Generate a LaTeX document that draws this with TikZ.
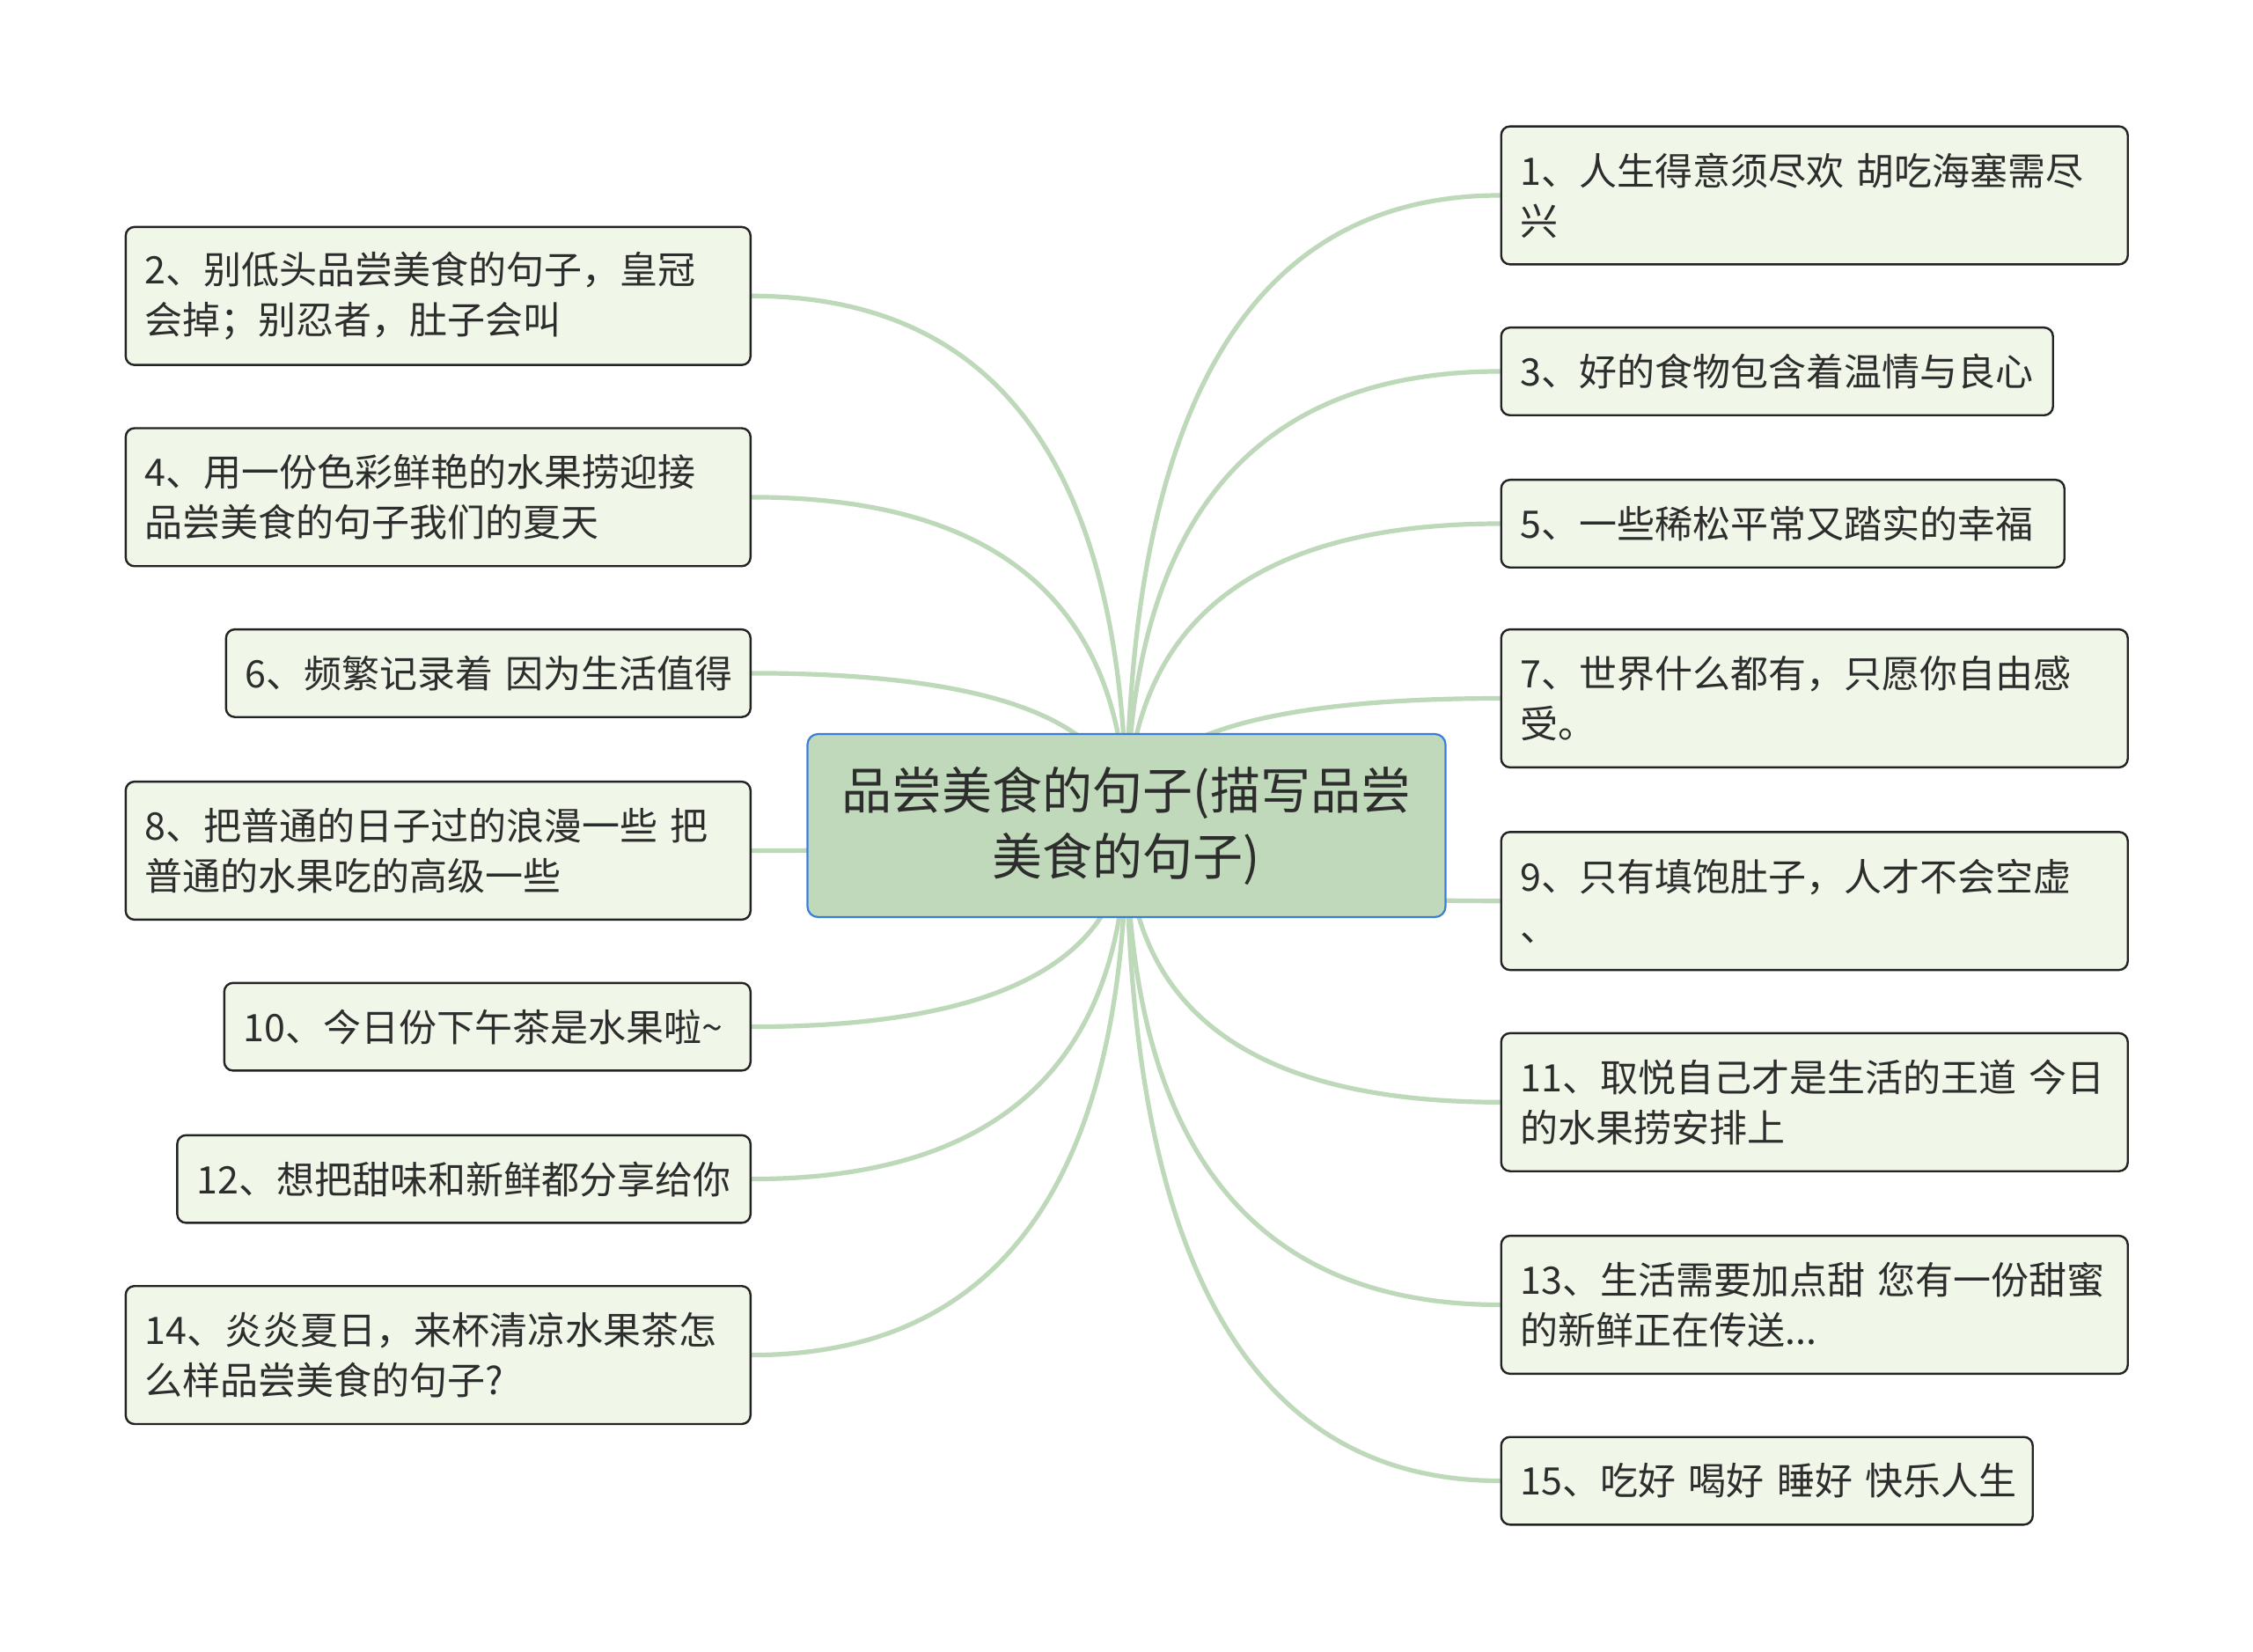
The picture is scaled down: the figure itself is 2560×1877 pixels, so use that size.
\documentclass[tikz,border=0pt]{standalone}
\usepackage{fontspec}
\setmainfont{Noto Sans CJK SC}
\usetikzlibrary{calc}
\pgfdeclarelayer{bg}
\pgfdeclarelayer{lines}
\pgfsetlayers{bg,lines,main}
\definecolor{linkc}{RGB}{190,216,186}
\definecolor{leaffill}{RGB}{240,246,232}
\definecolor{leafdraw}{RGB}{35,35,35}
\definecolor{rootfill}{RGB}{191,217,186}
\definecolor{rootdraw}{RGB}{60,125,215}
\definecolor{txt}{RGB}{45,45,45}
\tikzset{
  leaf/.style={draw=leafdraw, fill=leaffill, line width=1.2pt, rounded corners=5pt,
    inner xsep=11pt, inner ysep=0pt, align=left, text=txt,
    font=\fontsize{21.5}{28.5}\selectfont},
  one/.style={minimum height=49.8pt},
  two/.style={minimum height=78.4pt},
  rootbox/.style={draw=rootdraw, fill=rootfill, line width=1.1pt, rounded corners=6pt,
    minimum width=362.5pt, minimum height=104pt, align=center, text=txt,
    font=\fontsize{28.5}{37.5}\selectfont},
  link/.style={draw=linkc, line width=2.6pt}
}
\newcommand\mmlink[2]{%
  \coordinate (ctl) at (#1 |- #2);
  \path[link] (#1) .. controls ($(#1)!0.6667!(ctl)$) and ($(#2)!0.6667!(ctl)$) .. (#2);
}
\begin{document}
\begin{tikzpicture}[x=0.5pt,y=-0.5pt]
\begin{pgfonlayer}{bg}
\fill[white] (0,0) rectangle (2560,1877);
\end{pgfonlayer}
\useasboundingbox (0,0) rectangle (2560,1877);

\node[rootbox] (root) at (1280,938) {品尝美食的句子(描写品尝\\美食的句子)};

% left
\node[leaf,two,text width=333pt,anchor=east] (n2) at (854,336.3) {2、别低头品尝美食的句子，皇冠\\会掉；别忍者，肚子会叫};
\node[leaf,two,text width=333pt,anchor=east] (n4) at (854,564.9) {4、用一份色彩鲜艳的水果捞迎接\\品尝美食的句子我们的夏天};
\node[leaf,one,text width=276pt,anchor=east] (n6) at (854,764.9) {\mbox{6、频繁记录着 因为生活值得}};
\node[leaf,two,text width=333pt,anchor=east] (n8) at (854,966.5) {\mbox{8、把普通的日子过的浪漫一些 把}\\普通的水果吃的高级一些};
\node[leaf,one,text width=277pt,anchor=east] (n10) at (854,1166.6) {\mbox{10、今日份下午茶是水果啦\textasciitilde}};
\node[leaf,one,text width=303.7pt,anchor=east] (n12) at (854,1339.6) {\mbox{12、想把甜味和新鲜都分享给你}};
\node[leaf,two,text width=333pt,anchor=east] (n14) at (854,1539.6) {14、炎炎夏日，来杯清凉水果茶怎\\么样品尝美食的句子?};

% right
\node[leaf,two,text width=334pt,anchor=west] (n1) at (1704.5,222) {\mbox{1、人生得意须尽欢 胡吃海塞需尽}\\兴};
\node[leaf,one,text width=291.5pt,anchor=west] (n3) at (1704.5,422) {\mbox{3、好的食物包含着温情与良心}};
\node[leaf,one,text width=298pt,anchor=west] (n5) at (1704.5,595) {\mbox{5、一些稀松平常又踏实的幸福}};
\node[leaf,two,text width=334pt,anchor=west] (n7) at (1704.5,793.5) {7、世界什么都有，只愿你自由感\\受。};
\node[leaf,two,text width=334pt,anchor=west] (n9) at (1704.5,1023.7) {9、只有填饱肚子，人才不会空虚\\、};
\node[leaf,two,text width=334pt,anchor=west] (n11) at (1704.5,1252.3) {\mbox{11、取悦自己才是生活的王道 今日}\\的水果捞安排上};
\node[leaf,two,text width=334pt,anchor=west] (n13) at (1704.5,1482.5) {\mbox{13、生活需要加点甜 您有一份甜蜜}\\的新鲜正在传送...};
\node[leaf,one,text width=280pt,anchor=west] (n15) at (1704.5,1682.5) {\mbox{15、吃好 喝好 睡好 快乐人生}};

\begin{pgfonlayer}{lines}
\mmlink{root.center}{n2.east}
\mmlink{root.center}{n4.east}
\mmlink{root.center}{n6.east}
\mmlink{root.center}{n8.east}
\mmlink{root.center}{n10.east}
\mmlink{root.center}{n12.east}
\mmlink{root.center}{n14.east}
\mmlink{root.center}{n1.west}
\mmlink{root.center}{n3.west}
\mmlink{root.center}{n5.west}
\mmlink{root.center}{n7.west}
\mmlink{root.center}{n9.west}
\mmlink{root.center}{n11.west}
\mmlink{root.center}{n13.west}
\mmlink{root.center}{n15.west}
\end{pgfonlayer}
\end{tikzpicture}
\end{document}
